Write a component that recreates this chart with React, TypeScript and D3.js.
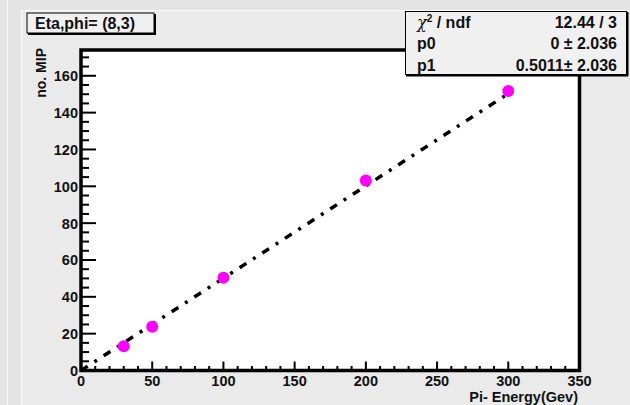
import React from "react";
import * as d3 from "d3";

// Beam energy (GeV) and measured response (number of MIPs)
const energies = [30, 50, 100, 200, 300];
const mipCounts = [13.2, 23.8, 50.3, 103.2, 151.7];

// Linear fit y = p0 + p1 * x
const fitP0 = 0;
const fitP1 = 0.5011;
const fitRange = [0, 300];

const xTicks = [0, 50, 100, 150, 200, 250, 300, 350];
const yTicks = [0, 20, 40, 60, 80, 100, 120, 140, 160];

const statsRows = [
  { label: "ndf", value: "12.44 / 3" },
  { label: "p0", value: "0 \u00b1 2.036" },
  { label: "p1", value: "0.5011\u00b1 2.036" },
];

const W = 630;
const H = 405;
const FONT = "'Liberation Sans', Arial, Helvetica, sans-serif";

export default function App() {
  const x = d3.scaleLinear().domain([0, 350]).range([81, 579.5]);
  const y = d3.scaleLinear().domain([0, 174]).range([370.5, 50]);

  const xMinor = d3.range(0, 351, 10).filter((v) => v % 50 !== 0);
  const yMinor = d3.range(0, 175, 5).filter((v) => v % 20 !== 0);

  const fitLine = d3
    .line<number>()
    .x((d) => x(d))
    .y((d) => y(fitP0 + fitP1 * d));

  return (
    <svg
      width={W}
      height={H}
      style={{ position: "absolute", left: 0, top: 0, display: "block" }}
      fontFamily={FONT}
    >
      {/* canvas background with bevel lines */}
      <rect x={0} y={0} width={W} height={H} fill="#e4e4e4" />
      <rect x={21} y={10} width={W - 21} height={H - 10} fill="#eaeaea" />
      <line x1={7.5} y1={0} x2={7.5} y2={H} stroke="#f8f8f8" strokeWidth={1} />
      <line x1={21.5} y1={10} x2={21.5} y2={H} stroke="#fafafa" strokeWidth={1} />
      <line x1={21} y1={10.5} x2={W} y2={10.5} stroke="#fafafa" strokeWidth={1} />

      {/* plot area */}
      <rect
        x={x(0)}
        y={y(174)}
        width={x(350) - x(0)}
        height={y(0) - y(174)}
        fill="#ffffff"
      />

      {/* x ticks */}
      {xTicks.map((t) => (
        <line key={"xM" + t} x1={x(t)} x2={x(t)} y1={y(0)} y2={y(0) - 9} stroke="#000" strokeWidth={2} />
      ))}
      {xMinor.map((t) => (
        <line key={"xm" + t} x1={x(t)} x2={x(t)} y1={y(0)} y2={y(0) - 4.5} stroke="#000" strokeWidth={2} />
      ))}
      {/* y ticks */}
      {yTicks.map((t) => (
        <line key={"yM" + t} x1={x(0)} x2={x(0) + 15} y1={y(t)} y2={y(t)} stroke="#000" strokeWidth={2} />
      ))}
      {yMinor.map((t) => (
        <line key={"ym" + t} x1={x(0)} x2={x(0) + 8} y1={y(t)} y2={y(t)} stroke="#000" strokeWidth={2} />
      ))}

      {/* fit */}
      <path
        d={fitLine(fitRange) || ""}
        fill="none"
        stroke="#000"
        strokeWidth={3.5}
        strokeDasharray="8,8,3,8"
      />

      {/* data points */}
      {energies.map((e, i) => (
        <circle key={e} cx={x(e)} cy={y(mipCounts[i])} r={6} fill="#ff00ff" />
      ))}

      {/* frame */}
      <rect
        x={x(0)}
        y={y(174)}
        width={x(350) - x(0)}
        height={y(0) - y(174)}
        fill="none"
        stroke="#000"
        strokeWidth={3.5}
      />

      {/* tick labels */}
      {xTicks.map((t) => (
        <text key={"xl" + t} x={x(t)} y={386} textAnchor="middle" fontSize={14.5} fontWeight="bold" fill="#111">
          {t}
        </text>
      ))}
      {yTicks.map((t) => (
        <text key={"yl" + t} x={78} y={y(t) + 5.5} textAnchor="end" fontSize={14.5} fontWeight="bold" fill="#111">
          {t}
        </text>
      ))}

      {/* axis titles */}
      <text x={578} y={402} textAnchor="end" fontSize={14.5} fontWeight="bold" fill="#111">
        Pi- Energy(Gev)
      </text>
      <text
        transform={`translate(46,48) rotate(-90)`}
        textAnchor="end"
        fontSize={14}
        fontWeight="bold"
        fill="#111"
      >
        no. MIP
      </text>

      {/* title box */}
      <rect x={27} y={13} width={127} height={20} fill="#f0f0f0" stroke="#000" strokeWidth={1} />
      <line x1={28} y1={34} x2={155} y2={34} stroke="#000" strokeWidth={2} />
      <line x1={155} y1={14} x2={155} y2={35} stroke="#000" strokeWidth={2} />
      <text x={35} y={28.5} fontSize={16} fontWeight="bold" fill="#111">
        Eta,phi= (8,3)
      </text>

      {/* stats box */}
      <rect x={405.5} y={11.5} width={221} height={63} fill="#f0f0f0" stroke="#000" strokeWidth={1} />
      <line x1={406} y1={75.5} x2={628} y2={75.5} stroke="#000" strokeWidth={2} />
      <line x1={627.5} y1={12} x2={627.5} y2={76} stroke="#000" strokeWidth={2} />
      {statsRows.map((r, i) => (
        <g key={r.label}>
          {i === 0 ? (
            <text x={417} y={27.5} fontSize={16} fontWeight="bold" fill="#111">
              <tspan fontStyle="italic" fontWeight="normal" fontFamily="'DejaVu Serif', serif">
                {"\u03c7"}
              </tspan>
              <tspan fontSize={10} dy={-6}>2</tspan>
              <tspan dy={6}>{" / ndf"}</tspan>
            </text>
          ) : (
            <text x={417} y={27.5 + i * 21.5} fontSize={16} fontWeight="bold" fill="#111">
              {r.label}
            </text>
          )}
          <text x={617} y={27.5 + i * 21.5} textAnchor="end" fontSize={16} fontWeight="bold" fill="#111">
            {r.value}
          </text>
        </g>
      ))}
    </svg>
  );
}
